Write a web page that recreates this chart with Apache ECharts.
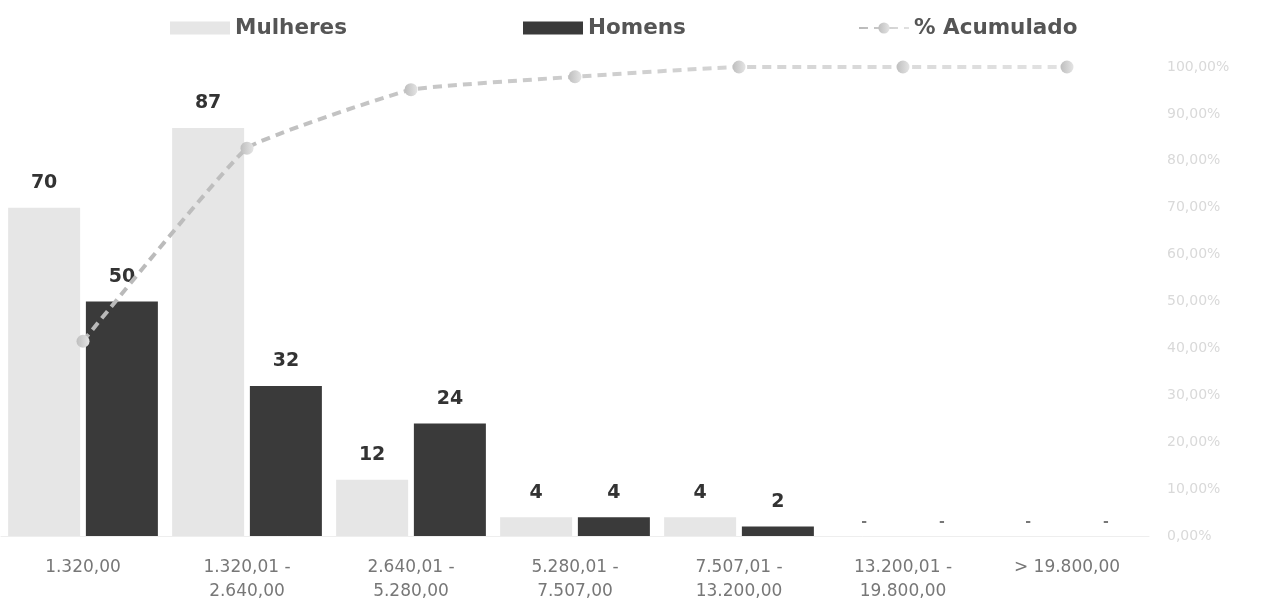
<!DOCTYPE html>
<html>
<head>
<meta charset="utf-8">
<title>Distribuição por faixa salarial</title>
<script src="https://cdn.jsdelivr.net/npm/echarts@6/dist/echarts.min.js"></script>
<style>
  html, body { margin: 0; padding: 0; background: #ffffff; }
  #chart { width: 1274px; height: 605px; }
</style>
</head>
<body>
<div id="chart"></div>
<script>
// Faixas salariais (R$)
const categories = [
  '1.320,00',
  '1.320,01 -\n2.640,00',
  '2.640,01 -\n5.280,00',
  '5.280,01 -\n7.507,00',
  '7.507,01 -\n13.200,00',
  '13.200,01 -\n19.800,00',
  '> 19.800,00'
];
const mulheres = [70, 87, 12, 4, 4, 0, 0];
const homens = [50, 32, 24, 4, 2, 0, 0];
// Percentual acumulado do total (%)
const acumulado = [41.52, 82.70, 95.16, 97.92, 100, 100, 100];
const pctTicks = [0, 10, 20, 30, 40, 50, 60, 70, 80, 90, 100];

const chart = echarts.init(document.getElementById('chart'));

const barLabel = {
  show: true,
  position: 'top',
  distance: 15,
  color: '#333333',
  fontFamily: 'DejaVu Sans',
  fontWeight: 'bold',
  fontSize: 19,
  formatter: p => (p.value === 0 ? '{z|-}' : String(p.value)),
  rich: {
    z: { color: '#777777', fontFamily: 'DejaVu Sans', fontSize: 14, padding: [0, 0, -8, 0] }
  }
};

const legendText = {
  color: '#555555',
  fontFamily: 'DejaVu Sans',
  fontWeight: 'bold',
  fontSize: 21.5
};

chart.setOption({
  backgroundColor: '#ffffff',
  animation: false,
  legend: [
    { left: 165, top: 12, icon: 'rect', itemWidth: 60, itemHeight: 13, itemGap: 10, textStyle: legendText, data: ['Mulheres'] },
    { left: 518, top: 12, icon: 'rect', itemWidth: 60, itemHeight: 13, itemGap: 10, textStyle: legendText, data: ['Homens'] },
    { left: 853, top: 12, itemWidth: 50, itemHeight: 14, itemGap: 10, textStyle: legendText, data: ['% Acumulado'] }
  ],
  grid: { left: 1, right: 125, top: 67, bottom: 69, containLabel: false },
  xAxis: {
    type: 'category',
    data: categories,
    axisTick: { show: false },
    axisLine: { show: true, lineStyle: { color: '#eeeeee', width: 1 } },
    axisLabel: {
      color: '#777777',
      fontFamily: 'DejaVu Sans',
      fontSize: 17,
      lineHeight: 24,
      margin: 20,
      interval: 0
    }
  },
  yAxis: [
    {
      type: 'value',
      min: 0,
      max: 100,
      interval: 10,
      show: false,
      splitLine: { show: false }
    },
    {
      type: 'value',
      position: 'right',
      min: 0,
      max: 100,
      interval: 10,
      axisLine: { show: false },
      axisTick: { show: false },
      splitLine: { show: false },
      axisLabel: {
        color: '#d9d9d9',
        fontFamily: 'DejaVu Sans',
        fontSize: 14,
        margin: 18,
        customValues: pctTicks,
        formatter: v => v.toFixed(2).replace('.', ',') + '%'
      }
    }
  ],
  series: [
    {
      name: 'Mulheres',
      type: 'bar',
      data: mulheres,
      barWidth: 72,
      barGap: '8%',
      itemStyle: { color: '#e6e6e6' },
      label: barLabel
    },
    {
      name: 'Homens',
      type: 'bar',
      data: homens,
      barWidth: 72,
      barGap: '8%',
      itemStyle: { color: '#3a3a3a' },
      label: barLabel
    },
    {
      name: '% Acumulado',
      type: 'line',
      yAxisIndex: 1,
      data: acumulado,
      smooth: 0.1,
      z: 5,
      symbol: 'circle',
      symbolSize: 13,
      lineStyle: {
        width: 4,
        type: [9, 6],
        color: new echarts.graphic.LinearGradient(0, 0, 1, 0, [
          { offset: 0, color: '#b8b8b8' },
          { offset: 1, color: '#e2e2e2' }
        ])
      },
      itemStyle: {
        color: new echarts.graphic.LinearGradient(0, 0, 1, 0, [
          { offset: 0, color: '#bebebe' },
          { offset: 1, color: '#e4e4e4' }
        ])
      },
      label: { show: false }
    }
  ]
});
</script>
</body>
</html>
